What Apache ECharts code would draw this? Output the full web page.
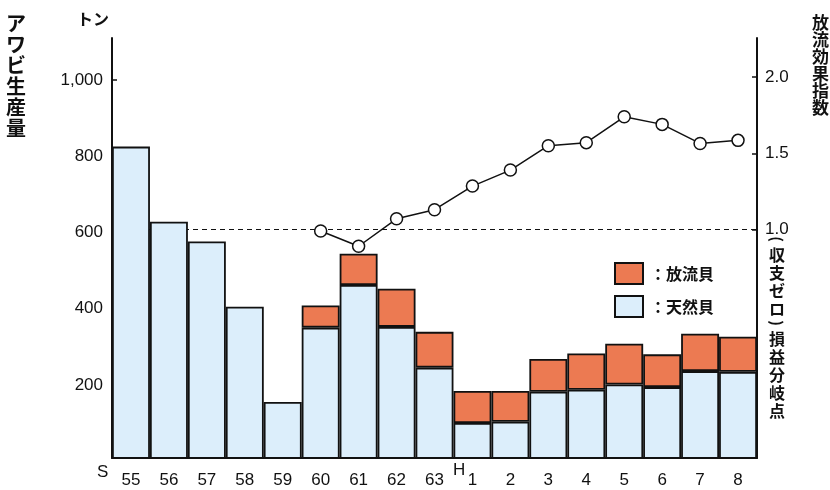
<!DOCTYPE html>
<html>
<head>
<meta charset="utf-8">
<script src="https://cdn.jsdelivr.net/npm/echarts@6/dist/echarts.min.js"></script>
<style>html,body{margin:0;padding:0;background:#fff}#c{width:830px;height:490px}</style>
</head>
<body>
<div id="c"></div>
<script>
const categories = ['55','56','57','58','59','60','61','62','63','1','2','3','4','5','6','7','8'];
const naturalCatch = [825,628,576,405,155,350,462,352,245,100,103,182,187,201,194,236,234];
const stockedCatch = [null,null,null,null,null,58,82,100,94,84,81,86,95,107,86,98,92];
const effectIndex = [null,null,null,null,null,0.99,0.89,1.07,1.13,1.285,1.39,1.55,1.57,1.74,1.69,1.565,1.585];
const leftTicks = [200,400,600,800,1000];
const rightTicks = [1.0,1.5,2.0];

const NUM = "'Liberation Sans', Arial, sans-serif";
const JP = "'Noto Sans CJK JP', sans-serif";
const chart = echarts.init(document.getElementById('c'), null, {renderer:'canvas'});
const vert = s => s.split('').join('\n');
const jpFont = sz => "bold " + sz + "px 'Noto Sans CJK JP'";
chart.setOption({
  animation: false,
  backgroundColor: '#fff',
  grid: {left: 112, right: 73, top: 38, bottom: 32},
  legend: {
    left: 614, top: 262, orient: 'vertical', itemGap: 10, padding: 0,
    itemWidth: 28, itemHeight: 21, icon: 'rect',
    data: ['放流貝','天然貝'],
    formatter: n => '：' + n,
    textStyle: {fontFamily: JP, fontSize: 16, fontWeight: 'bold', color: '#111', padding:[0,0,0,2]}
  },
  xAxis: {
    type: 'category', data: categories,
    axisLine: {onZero: false, lineStyle: {color: '#111', width: 2}},
    axisTick: {show: false},
    axisLabel: {fontFamily: NUM, fontSize: 17, color: '#111', margin: 14, interval: 0}
  },
  yAxis: [{
    type: 'value', min: 8, max: 1110,
    splitLine: {show: false},
    axisLine: {show: true, lineStyle: {color: '#111', width: 2}},
    axisTick: {show: true, inside: true, length: 5, lineStyle: {color: '#111', width: 1.5}, customValues: leftTicks},
    axisLabel: {fontFamily: NUM, fontSize: 17, color: '#111', margin: 9, customValues: leftTicks,
      formatter: v => v.toLocaleString('en-US')}
  },{
    type: 'value', min: -0.5, max: 2.257, position: 'right',
    splitLine: {show: false},
    axisLine: {show: true, lineStyle: {color: '#111', width: 2}},
    axisTick: {show: true, inside: true, length: 5, lineStyle: {color: '#111', width: 1.5}, customValues: rightTicks},
    axisLabel: {fontFamily: NUM, fontSize: 17, color: '#111', margin: 8, customValues: rightTicks,
      formatter: v => v.toFixed(1)}
  }],
  series: [{
    name: '天然貝', type: 'bar', stack: 'a', data: naturalCatch, barCategoryGap: '0%',
    itemStyle: {color: '#DCEEFB', borderColor: '#111', borderWidth: 1.8}
  },{
    name: '放流貝', type: 'bar', stack: 'a', data: stockedCatch, barCategoryGap: '0%',
    itemStyle: {color: '#EC7A52', borderColor: '#111', borderWidth: 1.8}
  },{
    name: 'index', type: 'line', yAxisIndex: 1, data: effectIndex, z: 5,
    symbol: 'circle', symbolSize: 12, showAllSymbol: true,
    lineStyle: {color: '#111', width: 1.5},
    itemStyle: {color: '#fff', borderColor: '#111', borderWidth: 1.5},
    markLine: {
      z: 1, silent: true, symbol: 'none', label: {show: false},
      lineStyle: {color: '#111', type: [5,4], width: 1},
      data: [{yAxis: 1.0}]
    }
  }],
  graphic: [
    {type:'text', left: 6, top: 13, style:{text: vert('アワビ生産量'), font: jpFont(20), lineHeight: 21, fill:'#111', align:'center'}},
    {type:'text', left: 77, top: 11, style:{text: 'トン', font: jpFont(16), fill:'#111'}},
    {type:'text', left: 812, top: 14, style:{text: vert('放流効果指数'), font: jpFont(17), lineHeight: 17, fill:'#111', align:'center'}},
    {type:'text', x: 777, y: 239, rotation: -Math.PI/2, style:{text: '(', font: jpFont(15), fill:'#111', align:'center', verticalAlign:'middle'}},
    {type:'text', left: 769, top: 246, style:{text: vert('収支ゼロ'), font: jpFont(16), lineHeight: 18, fill:'#111', align:'center'}},
    {type:'text', x: 777, y: 323, rotation: -Math.PI/2, style:{text: ')', font: jpFont(15), fill:'#111', align:'center', verticalAlign:'middle'}},
    {type:'text', left: 769, top: 330, style:{text: vert('損益分岐点'), font: jpFont(16), lineHeight: 18, fill:'#111', align:'center'}},
    {type:'text', left: 97, top: 464, style:{text: 'S', font: "17px 'Liberation Sans'", fill:'#111'}},
    {type:'text', left: 453, top: 462, style:{text: 'H', font: "17px 'Liberation Sans'", fill:'#111'}}
  ]
});
</script>
</body>
</html>
